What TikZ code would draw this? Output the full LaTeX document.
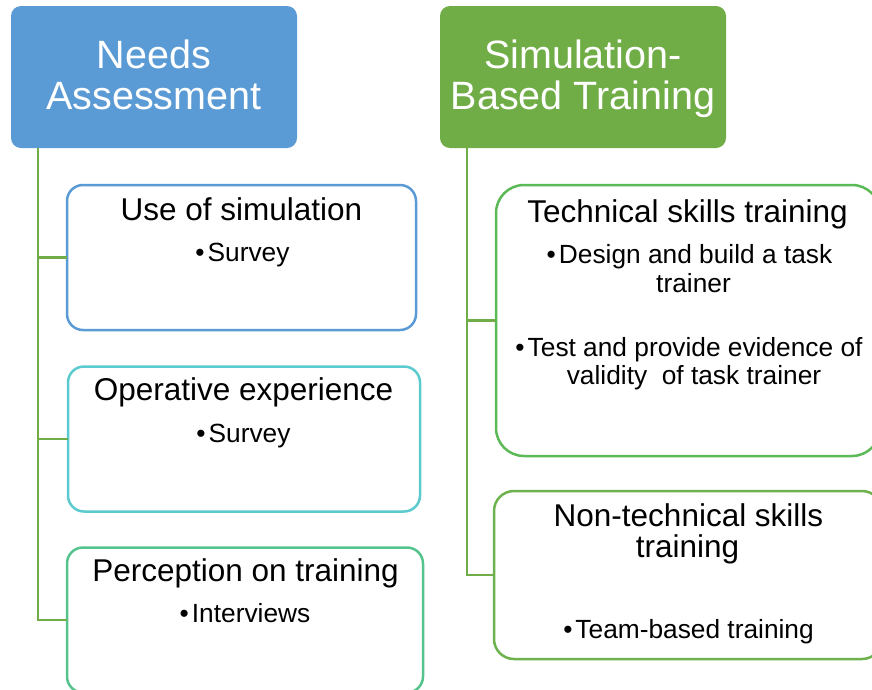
\documentclass[tikz,border=0pt]{standalone}
\usepackage{fontspec}
\setmainfont{Liberation Sans}

\definecolor{hdrblue}{HTML}{5B9BD5}
\definecolor{hdrgreen}{HTML}{70AD47}
\definecolor{edgeblue}{HTML}{5B9BD5}
\definecolor{edgeteal}{HTML}{5BCBCF}
\definecolor{edgemint}{HTML}{55C48C}
\definecolor{edgegreen}{HTML}{5BBA55}
\definecolor{edgeolive}{HTML}{6DB24C}
\definecolor{linkgreen}{HTML}{70AD47}

% bullet mark followed by a small gap
\newcommand\itembul{•\kern3pt}

\begin{document}
\begin{tikzpicture}[x=1pt,y=-1pt,
  header/.style={rectangle, rounded corners=10pt, fill=#1, draw=none,
    inner sep=0pt, outer sep=0pt, minimum width=286pt, minimum height=142pt},
  childbox/.style={rectangle, draw=#1, line width=2.5pt, fill=white,
    inner sep=0pt, outer sep=0pt},
  link/.style={draw=linkgreen, line width=2.6pt},
  htext/.style={anchor=base, text=white, inner sep=0pt,
    font=\fontsize{39.5}{41}\selectfont},
  ttext/.style={anchor=base, text=black, inner sep=0pt,
    font=\fontsize{31.5}{34}\selectfont},
  btext/.style={anchor=base, text=black, inner sep=0pt,
    font=\fontsize{26.3}{29}\selectfont},
]
\useasboundingbox (0,0) rectangle (872,689);
\clip (0,0) rectangle (872,689);

% top-level headers
\node[header=hdrblue]  (na)  at (154,77) {};
\node[header=hdrgreen] (sbt) at (583,77) {};
\node[htext] (na1)  at (154,68)  {Needs};
\node[htext] (na2)  at (154,109) {Assessment};
\node[htext] (sbt1) at (583,68)  {Simulation-};
\node[htext] (sbt2) at (583,109) {Based Training};

% left column boxes
\node[childbox=edgeblue, rounded corners=16pt, minimum width=349pt, minimum height=145pt] (b1) at (241.5,257.5) {};
\node[childbox=edgeteal, rounded corners=16pt, minimum width=352pt, minimum height=145pt] (b2) at (244,439) {};
\node[childbox=edgemint, rounded corners=16pt, minimum width=356pt, minimum height=145pt] (b3) at (245,620) {};

% right column boxes
\node[childbox=edgegreen, rounded corners=28pt, minimum width=384pt, minimum height=271pt] (b4) at (688,320.5) {};
\node[childbox=edgeolive, rounded corners=20pt, minimum width=388pt, minimum height=168pt] (b5) at (688,575) {};

% connectors
\coordinate (la) at (38,148);
\coordinate (ra) at (467,148);
\draw[link] (la) |- (b3.west);
\draw[link] (la |- b1.west) -- (b1.west);
\draw[link] (la |- b2.west) -- (b2.west);
\draw[link] (ra) |- (b5.west);
\draw[link] (ra |- b4.west) -- (b4.west);

% left column texts
\node[ttext] (t1)  at (241.5,220) {Use of simulation};
\node[btext] (t1a) at (242.5,261) {\itembul Survey};
\node[ttext] (t2)  at (243.5,400) {Operative experience};
\node[btext] (t2a) at (243.5,442) {\itembul Survey};
\node[ttext] (t3)  at (245.5,581) {Perception on training};
\node[btext] (t3a) at (245,622)   {\itembul Interviews};

% right column texts
\node[ttext] (t4)  at (687.5,222) {Technical skills training};
\node[btext] (t4a) at (689.5,263) {\itembul Design and build a task};
\node[btext] (t4b) at (693.5,292) {trainer};
\node[btext] (t4c) at (689,356)   {\itembul Test and provide evidence of};
\node[btext] (t4d) at (694,384)   {validity~ of task trainer};
\node[ttext] (t5)  at (688.5,526) {Non-technical skills};
\node[ttext] (t5a) at (687.5,557) {training};
\node[btext] (t5b) at (688.5,638) {\itembul Team-based training};
\end{tikzpicture}
\end{document}
